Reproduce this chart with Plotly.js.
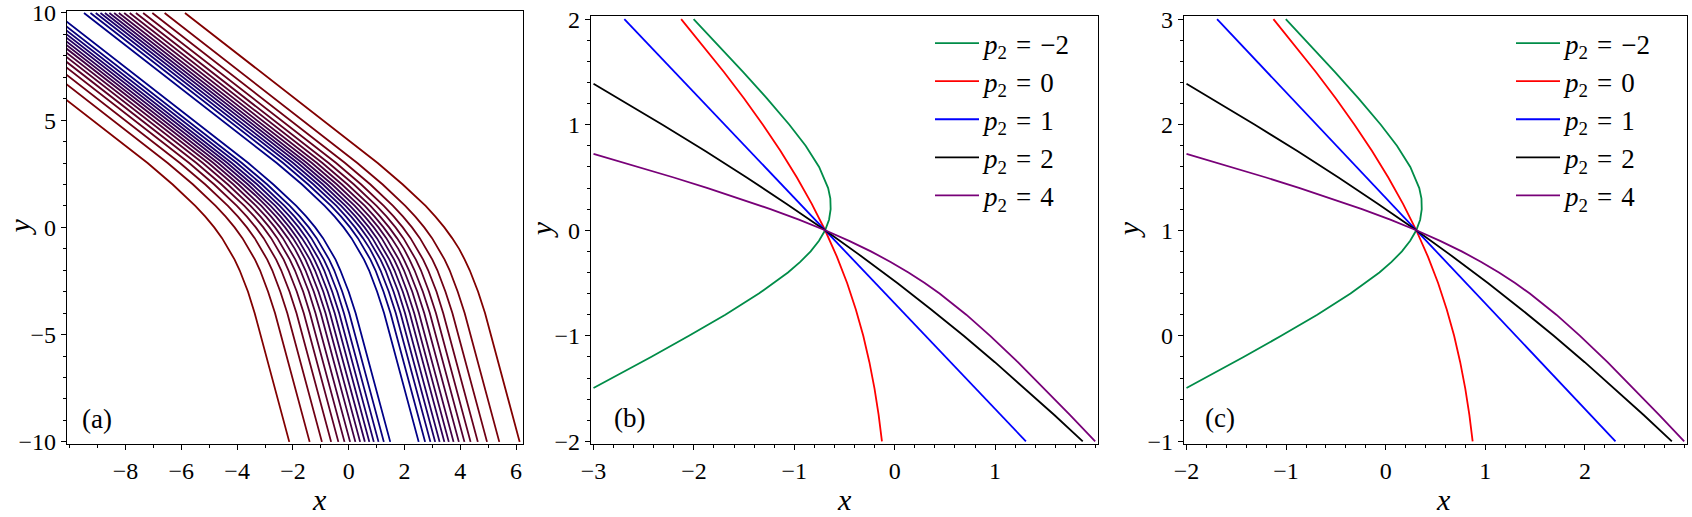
<!DOCTYPE html>
<html><head><meta charset="utf-8">
<script src="https://cdn.plot.ly/plotly-3.0.1.min.js"></script>
<style>html,body{margin:0;padding:0;background:#fff}#chart{width:1692px;height:517px}
svg text{font-family:'Liberation Serif',serif !important}</style>
</head><body><div id="chart"></div>
<script>
// ---------- Panel (a): contour lines, x read at fixed y levels ----------
const aY = [10, 4, 3, 2, 1.5, 1, 0.5, 0, -0.5, -1, -1.5, -2, -3, -4, -10];
// left family, outer (red) -> inner (blue)
const aLeftX = [
  [-14.13,-8.17,-7.21,-6.31,-5.89,-5.50,-5.14,-4.82,-4.54,-4.30,-4.09,-3.91,-3.61,-3.37,-2.13],
  [-13.40,-7.44,-6.49,-5.58,-5.16,-4.77,-4.41,-4.09,-3.81,-3.57,-3.36,-3.18,-2.89,-2.64,-1.40],
  [-12.96,-7.00,-6.05,-5.14,-4.72,-4.33,-3.97,-3.65,-3.37,-3.13,-2.92,-2.74,-2.45,-2.20,-0.96],
  [-12.63,-6.67,-5.72,-4.82,-4.40,-4.01,-3.65,-3.33,-3.05,-2.81,-2.60,-2.42,-2.12,-1.87,-0.63],
  [-12.37,-6.41,-5.46,-4.56,-4.13,-3.74,-3.38,-3.06,-2.78,-2.54,-2.33,-2.16,-1.86,-1.61,-0.37],
  [-12.15,-6.19,-5.23,-4.33,-3.91,-3.52,-3.16,-2.84,-2.56,-2.32,-2.11,-1.93,-1.63,-1.39,-0.15],
  [-11.95,-5.99,-5.03,-4.13,-3.71,-3.32,-2.96,-2.64,-2.36,-2.12,-1.91,-1.73,-1.43,-1.19,0.05],
  [-11.76,-5.80,-4.85,-3.95,-3.53,-3.13,-2.78,-2.46,-2.18,-1.93,-1.73,-1.55,-1.25,-1.00,0.24],
  [-11.59,-5.63,-4.68,-3.78,-3.35,-2.96,-2.60,-2.28,-2.00,-1.76,-1.55,-1.38,-1.08,-0.83,0.41],
  [-11.43,-5.47,-4.51,-3.61,-3.19,-2.80,-2.44,-2.12,-1.84,-1.60,-1.39,-1.21,-0.91,-0.67,0.58],
  [-11.26,-5.30,-4.35,-3.45,-3.03,-2.63,-2.28,-1.96,-1.68,-1.43,-1.23,-1.05,-0.75,-0.50,0.74],
  [-11.10,-5.14,-4.19,-3.28,-2.86,-2.47,-2.11,-1.79,-1.51,-1.27,-1.06,-0.88,-0.59,-0.34,0.90],
  [-10.93,-4.97,-4.01,-3.11,-2.69,-2.30,-1.94,-1.62,-1.34,-1.10,-0.89,-0.71,-0.41,-0.17,1.07],
  [-10.74,-4.78,-3.83,-2.92,-2.50,-2.11,-1.75,-1.43,-1.15,-0.91,-0.70,-0.52,-0.23,0.02,1.26],
  [-10.51,-4.55,-3.60,-2.70,-2.27,-1.88,-1.52,-1.20,-0.92,-0.68,-0.47,-0.30,0.00,0.25,1.49]
];
// right family, outer (red) -> inner (blue)
const aRightX = [
  [-5.87,0.09,1.04,1.94,2.36,2.76,3.11,3.43,3.71,3.96,4.16,4.34,4.64,4.89,6.13],
  [-6.60,-0.64,0.31,1.22,1.64,2.03,2.39,2.71,2.99,3.23,3.44,3.62,3.91,4.16,5.40],
  [-7.04,-1.08,-0.13,0.78,1.20,1.59,1.95,2.27,2.55,2.79,3.00,3.18,3.47,3.72,4.96],
  [-7.37,-1.41,-0.45,0.45,0.87,1.26,1.62,1.94,2.22,2.46,2.67,2.85,3.15,3.39,4.63],
  [-7.63,-1.67,-0.72,0.19,0.61,1.00,1.36,1.68,1.96,2.20,2.41,2.59,2.88,3.13,4.37],
  [-7.85,-1.89,-0.94,-0.04,0.38,0.78,1.13,1.45,1.73,1.98,2.18,2.36,2.66,2.91,4.15],
  [-8.05,-2.09,-1.14,-0.24,0.18,0.58,0.93,1.25,1.53,1.78,1.98,2.16,2.46,2.71,3.95],
  [-8.24,-2.28,-1.32,-0.42,0.00,0.39,0.75,1.07,1.35,1.59,1.80,1.98,2.28,2.52,3.76],
  [-8.41,-2.45,-1.50,-0.59,-0.17,0.22,0.58,0.90,1.18,1.42,1.63,1.81,2.10,2.35,3.59],
  [-8.58,-2.62,-1.66,-0.76,-0.34,0.05,0.41,0.73,1.01,1.25,1.46,1.64,1.94,2.19,3.43],
  [-8.74,-2.78,-1.82,-0.92,-0.50,-0.11,0.25,0.57,0.85,1.09,1.30,1.48,1.78,2.02,3.26],
  [-8.90,-2.94,-1.99,-1.09,-0.66,-0.27,0.09,0.41,0.69,0.93,1.14,1.32,1.61,1.86,3.10],
  [-9.07,-3.11,-2.16,-1.26,-0.84,-0.44,-0.09,0.23,0.51,0.76,0.96,1.14,1.44,1.69,2.93],
  [-9.26,-3.30,-2.35,-1.45,-1.02,-0.63,-0.27,0.05,0.33,0.57,0.78,0.96,1.25,1.50,2.74],
  [-9.49,-3.53,-2.58,-1.67,-1.25,-0.86,-0.50,-0.18,0.10,0.34,0.55,0.73,1.02,1.27,2.51]
];
const aXTicks = [-8,-6,-4,-2,0,2,4,6];
const aYTicks = [-10,-5,0,5,10];

// ---------- Panels (b) and (c): curves for several p2 ----------
const p2Labels = ['\u22122','0','1','2','4'];
const bX = [
  [-2.003,-1.755,-1.511,-1.273,-1.049,-0.887,-0.753,-0.663,-0.641,-0.638,-0.654,-0.693,-0.754,-0.837,-0.941,-1.063,-1.353,-1.687,-2.049,-2.427,-2.815,-3.000],
  [-2.127,-1.910,-1.701,-1.502,-1.313,-1.137,-0.974,-0.826,-0.693,-0.576,-0.474,-0.387,-0.313,-0.252,-0.201,-0.160,-0.127],
  [-2.693,1.307],
  [-3.000,-2.752,-2.313,-1.887,-1.474,-1.076,-0.693,-0.326,0.026,0.363,0.687,0.998,1.299,1.590,1.873],
  [-3.000,-2.553,-2.201,-1.863,-1.541,-1.238,-0.954,-0.693,-0.454,-0.237,-0.041,0.137,0.299,0.447,0.713,0.951,1.227,1.489,1.745,1.997]
];
const bY = [
  [2,1.75,1.5,1.25,1,0.8,0.6,0.4,0.3,0.2,0.1,0,-0.1,-0.2,-0.3,-0.4,-0.6,-0.8,-1.0,-1.2,-1.4,-1.494],
  [2,1.75,1.5,1.25,1,0.75,0.5,0.25,0,-0.25,-0.5,-0.75,-1,-1.25,-1.5,-1.75,-2],
  [2,-2],
  [1.3885,1.25,1,0.75,0.5,0.25,0,-0.25,-0.5,-0.75,-1,-1.25,-1.5,-1.75,-2],
  [0.723,0.6,0.5,0.4,0.3,0.2,0.1,0,-0.1,-0.2,-0.3,-0.4,-0.5,-0.6,-0.8,-1.0,-1.25,-1.5,-1.75,-2]
];
const cX = [
  [-1.003,-0.755,-0.511,-0.273,-0.049,0.113,0.247,0.337,0.359,0.362,0.346,0.307,0.246,0.163,0.059,-0.063,-0.353,-0.687,-1.049,-1.427,-1.815,-2.000],
  [-1.127,-0.910,-0.701,-0.502,-0.313,-0.137,0.026,0.174,0.307,0.424,0.526,0.613,0.687,0.748,0.799,0.840,0.873],
  [-1.693,2.307],
  [-2.000,-1.752,-1.313,-0.887,-0.474,-0.076,0.307,0.674,1.026,1.363,1.687,1.998,2.299,2.590,2.873],
  [-2.000,-1.553,-1.201,-0.863,-0.541,-0.238,0.046,0.307,0.546,0.763,0.959,1.137,1.299,1.447,1.713,1.951,2.227,2.489,2.745,2.997]
];
const cY = [
  [3,2.75,2.5,2.25,2,1.8,1.6,1.4,1.3,1.2,1.1,1,0.9,0.8,0.7,0.6,0.4,0.2,0,-0.2,-0.4,-0.494],
  [3,2.75,2.5,2.25,2,1.75,1.5,1.25,1,0.75,0.5,0.25,0,-0.25,-0.5,-0.75,-1],
  [3,-1],
  [2.3885,2.25,2,1.75,1.5,1.25,1,0.75,0.5,0.25,0,-0.25,-0.5,-0.75,-1],
  [1.723,1.6,1.5,1.4,1.3,1.2,1.1,1,0.9,0.8,0.7,0.6,0.5,0.4,0.2,0,-0.25,-0.5,-0.75,-1]
];
const bXTicks = [-3,-2,-1,0,1], bYTicks = [-2,-1,0,1,2];
const cXTicks = [-2,-1,0,1,2], cYTicks = [-1,0,1,2,3];

// ---------- styling ----------
const FONT = 'Liberation Serif';
const curveColors = ['rgb(0,140,72)','rgb(255,0,0)','rgb(0,0,255)','rgb(0,0,0)','rgb(120,0,120)'];
function levelColor(i, n){
  const t = i/(n-1);
  const r = Math.round(130*(1-t)), b = Math.round(135*t);
  return `rgb(${r},0,${b})`;
}
const traces = [];
for (let i=0;i<aLeftX.length;i++){
  traces.push({x:aLeftX[i], y:aY, xaxis:'x', yaxis:'y', mode:'lines', showlegend:false, hoverinfo:'skip',
    line:{color:levelColor(i,aLeftX.length), width:1.8}});
}
for (let i=0;i<aRightX.length;i++){
  traces.push({x:aRightX[i], y:aY, xaxis:'x', yaxis:'y', mode:'lines', showlegend:false, hoverinfo:'skip',
    line:{color:levelColor(i,aRightX.length), width:1.8}});
}
const sp = '\u2004';
for (let k=0;k<bX.length;k++){
  traces.push({x:bX[k], y:bY[k], xaxis:'x2', yaxis:'y2', mode:'lines', name:'<i>p</i><sub>2</sub>'+sp+'='+sp+p2Labels[k],
    legend:'legend', legendgroup:'b'+k, line:{color:curveColors[k], width:1.8}});
}
for (let k=0;k<cX.length;k++){
  traces.push({x:cX[k], y:cY[k], xaxis:'x3', yaxis:'y3', mode:'lines', name:'<i>p</i><sub>2</sub>'+sp+'='+sp+p2Labels[k],
    legend:'legend2', legendgroup:'c'+k, line:{color:curveColors[k], width:1.8}});
}

function ax(domain, range, tickvals, minorD, anchor){
  return {domain, range, anchor, tickmode:'array', tickvals, ticks:'outside', ticklen:5, tickwidth:1, tickcolor:'#000',
    showline:true, linecolor:'#000', linewidth:1.2, mirror:true, showgrid:false, zeroline:false,
    ticklabeloverflow:'allow', automargin:false,
    tickfont:{family:FONT, size:24, color:'#000'},
    minor:{tickmode:'linear', tick0:0, dtick:minorD, ticks:'outside', ticklen:3, tickwidth:1, tickcolor:'#000'}};
}
const W=1692, H=517;
const px = v => v/W, py = v => 1 - v/H;
const titleFont = {family:FONT, size:30, color:'#000'};
const labelFont = {family:FONT, size:27, color:'#000'};
const legFont = {family:FONT, size:27, color:'#000'};
const layout = {
  width:W, height:H, margin:{l:0,r:0,t:0,b:0}, paper_bgcolor:'#fff', plot_bgcolor:'#fff',
  font:{family:FONT, size:24, color:'#000'},
  xaxis: ax([px(67),px(523)], [-10.1,6.25], aXTicks, 1, 'y'),
  yaxis: ax([py(444),py(11)], [-10.1,10.09], aYTicks, 1, 'x'),
  xaxis2: ax([px(591),px(1098)], [-3.025,2.025], bXTicks, 0.2, 'y2'),
  yaxis2: ax([py(444),py(16)], [-2.025,2.03], bYTicks, 0.2, 'x2'),
  xaxis3: ax([px(1184),px(1687)], [-2.025,3.025], cXTicks, 0.2, 'y3'),
  yaxis3: ax([py(444),py(16)], [-1.025,3.03], cYTicks, 0.2, 'x3'),
  legend:{x:px(930), y:py(19), xanchor:'left', yanchor:'top', bgcolor:'rgba(0,0,0,0)', font:legFont, tracegroupgap:0, itemwidth:44},
  legend2:{x:px(1511), y:py(19), xanchor:'left', yanchor:'top', bgcolor:'rgba(0,0,0,0)', font:legFont, tracegroupgap:0, itemwidth:44},
  showlegend:true,
  annotations:[
    {text:'<i>x</i>', xref:'x', yref:'paper', x:-1.06, y:py(499), xanchor:'center', yanchor:'middle', showarrow:false, font:titleFont},
    {text:'<i>x</i>', xref:'x2', yref:'paper', x:-0.5, y:py(499), xanchor:'center', yanchor:'middle', showarrow:false, font:titleFont},
    {text:'<i>x</i>', xref:'x3', yref:'paper', x:0.577, y:py(499), xanchor:'center', yanchor:'middle', showarrow:false, font:titleFont},
    {text:'<i>y</i>', xref:'paper', yref:'y', x:px(19), y:0, xanchor:'center', yanchor:'middle', textangle:-90, showarrow:false, font:titleFont},
    {text:'<i>y</i>', xref:'paper', yref:'y2', x:px(541), y:0, xanchor:'center', yanchor:'middle', textangle:-90, showarrow:false, font:titleFont},
    {text:'<i>y</i>', xref:'paper', yref:'y3', x:px(1128), y:1, xanchor:'center', yanchor:'middle', textangle:-90, showarrow:false, font:titleFont},
    {text:'(a)', xref:'x', yref:'y', x:-9.02, y:-8.95, xanchor:'center', yanchor:'middle', showarrow:false, font:labelFont},
    {text:'(b)', xref:'x2', yref:'y2', x:-2.64, y:-1.78, xanchor:'center', yanchor:'middle', showarrow:false, font:labelFont},
    {text:'(c)', xref:'x3', yref:'y3', x:-1.66, y:-0.78, xanchor:'center', yanchor:'middle', showarrow:false, font:labelFont}
  ]
};
Plotly.newPlot('chart', traces, layout, {staticPlot:true, displayModeBar:false});
</script></body></html>
